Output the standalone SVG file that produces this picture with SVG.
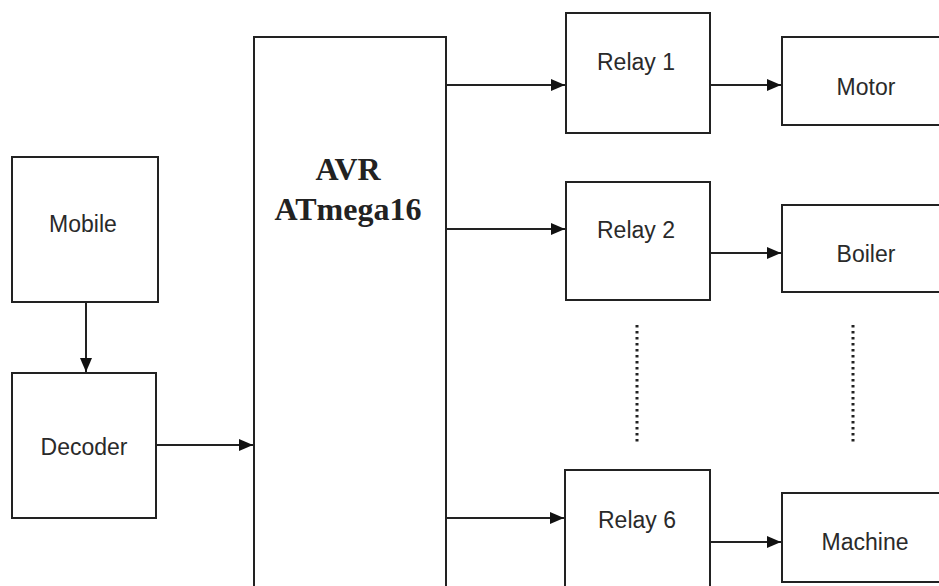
<svg xmlns="http://www.w3.org/2000/svg" width="939" height="586" viewBox="0 0 939 586">
<defs>
<style>
.box{fill:#fff;stroke:#222;stroke-width:2}
.lbl{font-family:"Liberation Sans",Arial,sans-serif;font-size:23px;fill:#2a2a2a;text-anchor:middle}
.avr{font-family:"Liberation Serif","Times New Roman",serif;font-size:32px;font-weight:bold;fill:#222;text-anchor:middle}
.con{stroke:#222;stroke-width:2;fill:none}
.dot{stroke:#222;stroke-width:3;fill:none;stroke-dasharray:2.5 3.5}
</style>
<marker id="ah" markerWidth="14" markerHeight="12" refX="14" refY="6" orient="auto" markerUnits="userSpaceOnUse">
<path d="M0,0 L14,6 L0,12 Z" fill="#111"/>
</marker>
</defs>
<rect width="939" height="586" fill="#fff"/>
<g id="connectors">
<line class="con" x1="86" y1="302" x2="86" y2="372" marker-end="url(#ah)"/>
<line class="con" x1="156" y1="445" x2="253" y2="445" marker-end="url(#ah)"/>
<line class="con" x1="446" y1="85" x2="565" y2="85" marker-end="url(#ah)"/>
<line class="con" x1="443" y1="229" x2="565" y2="229" marker-end="url(#ah)"/>
<line class="con" x1="443" y1="518" x2="564" y2="518" marker-end="url(#ah)"/>
<line class="con" x1="710" y1="85" x2="781" y2="85" marker-end="url(#ah)"/>
<line class="con" x1="710" y1="253" x2="781" y2="253" marker-end="url(#ah)"/>
<line class="con" x1="710" y1="542" x2="781" y2="542" marker-end="url(#ah)"/>
<line class="dot" x1="637" y1="325" x2="637" y2="442"/>
<line class="dot" x1="853" y1="325" x2="853" y2="442"/>
</g>
<g id="mobile"><rect class="box" x="12" y="157" width="146" height="145"/><text class="lbl" x="83" y="232">Mobile</text></g>
<g id="decoder"><rect class="box" x="12" y="373" width="144" height="145"/><text class="lbl" x="84" y="455">Decoder</text></g>
<g id="avr"><rect class="box" x="254" y="37" width="192" height="570"/><text class="avr" x="348" y="180">AVR</text><text class="avr" x="348" y="220">ATmega16</text></g>
<g id="relay1"><rect class="box" x="566" y="13" width="144" height="120"/><text class="lbl" x="636" y="70">Relay 1</text></g>
<g id="relay2"><rect class="box" x="566" y="182" width="144" height="118"/><text class="lbl" x="636" y="238">Relay 2</text></g>
<g id="relay6"><rect class="box" x="565" y="470" width="145" height="130"/><text class="lbl" x="637" y="528">Relay 6</text></g>
<g id="motor"><rect class="box" x="782" y="37" width="170" height="88"/><text class="lbl" x="866" y="95">Motor</text></g>
<g id="boiler"><rect class="box" x="782" y="205" width="170" height="87"/><text class="lbl" x="866" y="262">Boiler</text></g>
<g id="machine"><rect class="box" x="782" y="493" width="170" height="89"/><text class="lbl" x="865" y="550">Machine</text></g>
</svg>
